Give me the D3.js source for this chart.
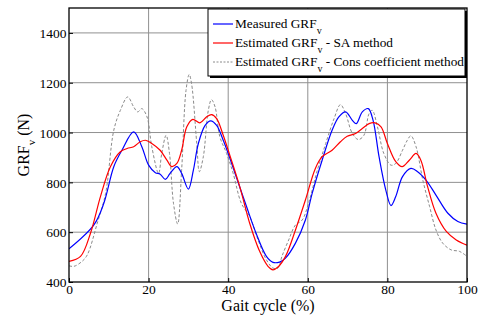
<!DOCTYPE html>
<html><head><meta charset="utf-8">
<script src="https://cdn.jsdelivr.net/npm/d3@7"></script>
</head><body style="margin:0;background:#fff">
<svg id="c" width="481" height="324" font-family="Liberation Serif"></svg>
<script>
const xTicks=[0,20,40,60,80,100];
const yTicks=[400,600,800,1000,1200,1400];
const measuredX=[0,6.25,8.75,11.25,13.3,16.25,18.3,20,21.7,22.9,24.2,25.4,27.1,28.3,30,31.25,32.5,34.2,35.6,37.1,38.75,40,42,44.6,47,49.6,51.25,52.9,54.4,56.9,59.4,61.1,63.6,66.1,67.8,69.5,71.2,72.2,73.7,75.2,76.4,77.9,79.6,80.9,82.1,83.8,85.9,87.6,89.7,92.2,95.2,97.7,100];
const measuredY=[533,629,716,863,929,1003,943,869,839,833,812,836,863,836,773,849,956,1029,1047,1029,969,916,823,703,596,503,479,480,496,556,649,756,889,1009,1063,1083,1049,1036,1083,1096,1049,903,769,707,743,823,856,843,809,749,676,643,632];
const saX=[0,2.9,5.4,7.9,10.4,12.9,14.6,16.25,17.9,19.2,20.8,22.9,24.6,25.8,27.1,28.3,29.6,31.1,32.9,34.6,35.8,37.1,38.75,40.4,42.9,45.4,47.9,50,51.25,52.5,54.4,56.9,59.4,61.9,63.6,66.1,68.2,69.9,72,73.7,75.4,76.9,78.4,80,82.1,83.7,85.5,87.2,88.4,90.1,92.2,94.8,97.3,100];
const saY=[483,503,596,743,863,923,936,943,963,969,956,929,889,863,876,929,1023,1053,1039,1063,1072,1056,989,909,783,636,523,463,449,460,503,609,729,856,903,929,963,985,996,1016,1036,1039,1023,956,883,863,889,916,889,783,676,603,569,548];
const consX=[0,1.25,3.3,4.6,7.1,9.2,11.25,12.9,14.75,16.25,17.25,18.3,19.6,20.8,22.5,23.3,24.4,25.25,26.25,27.3,28.3,29.4,30.2,30.8,32.1,32.75,33.75,35,35.8,36.7,37.9,39.6,41.25,43.3,45.4,47.5,49.6,51.25,52.5,53.5,55.2,56.9,58.6,60.3,62.4,64.5,66.6,68.2,69.5,71.2,72.7,74.1,75.4,76.2,77.5,79.1,80.9,82.1,83.8,85,85.9,87.2,88.9,90.6,92.2,93.9,96,98.1,100];
const consY=[465,463,483,509,636,756,1009,1089,1143,1103,1083,1096,1063,943,836,916,989,916,716,633,849,1169,1233,1196,956,843,903,1089,1132,1103,983,916,836,716,663,569,489,456,456,503,569,629,649,723,849,956,1056,1112,1076,996,972,989,1076,1089,1023,916,869,876,929,969,987,943,809,703,609,556,529,523,503];
const legendLabels=["Measured GRF","Estimated GRF","Estimated GRF"];
const legendSuffix=[""," - SA method"," - Cons coefficient method"];

const FF="Liberation Serif";
const svg=d3.select("#c");
const L=69,R=467,T=8,B=282;
const x=d3.scaleLinear().domain([0,100]).range([L,R]);
const y=d3.scaleLinear().domain([400,1500]).range([B,T]);

const g=svg.append("g");
g.selectAll(".gx").data(xTicks.slice(1,-1)).enter().append("line")
 .attr("x1",d=>x(d)).attr("x2",d=>x(d)).attr("y1",T).attr("y2",B)
 .attr("stroke","#909090").attr("stroke-width",1);
g.selectAll(".gy").data(yTicks.slice(1)).enter().append("line")
 .attr("x1",L).attr("x2",R).attr("y1",d=>y(d)).attr("y2",d=>y(d))
 .attr("stroke","#909090").attr("stroke-width",1);

const xa=svg.append("g").attr("transform",`translate(0,${B})`)
 .call(d3.axisBottom(x).tickValues(xTicks).tickFormat(d3.format("d")).tickSize(-4).tickPadding(2));
const ya=svg.append("g").attr("transform",`translate(${L},0)`)
 .call(d3.axisLeft(y).tickValues(yTicks).tickFormat(d3.format("d")).tickSize(-4).tickPadding(2.5));
[xa,ya].forEach(a=>{a.attr("font-family",FF).attr("font-size",13.5);a.select(".domain").remove();a.selectAll("line").attr("stroke","#000");
 a.selectAll("text").attr("font-family",FF).attr("font-size",13.5).attr("fill","#000");});
ya.selectAll("text").attr("dy","0.35em");
xa.selectAll("text").attr("dy","0.72em");

const mk=(xs,ys)=>xs.map((d,i)=>[d,ys[i]]);
const line=d3.line().x(d=>x(d[0])).y(d=>y(d[1])).curve(d3.curveCatmullRom.alpha(0.5));
svg.append("clipPath").attr("id","cp").append("rect").attr("x",L).attr("y",T).attr("width",R-L).attr("height",B-T);
const lg=svg.append("g").attr("clip-path","url(#cp)");
lg.append("path").attr("d",line(mk(consX,consY))).attr("fill","none").attr("stroke","#8a8a8a").attr("stroke-width",1).attr("stroke-dasharray","3,2");
lg.append("path").attr("d",line(mk(measuredX,measuredY))).attr("fill","none").attr("stroke","#0000ff").attr("stroke-width",1.2);
lg.append("path").attr("d",line(mk(saX,saY))).attr("fill","none").attr("stroke","#ff0000").attr("stroke-width",1.2);

svg.append("rect").attr("x",L).attr("y",T).attr("width",R-L).attr("height",B-T).attr("fill","none").attr("stroke","#000").attr("stroke-width",1.3);

const lx=208,ly=9,lw=257,lh=67;
svg.append("rect").attr("x",lx+2).attr("y",ly+2).attr("width",lw).attr("height",lh).attr("fill","#000");
svg.append("rect").attr("x",lx).attr("y",ly).attr("width",lw).attr("height",lh).attr("fill","#fff").attr("stroke","#000").attr("stroke-width",1);
const colors=["#0000ff","#ff0000","#8a8a8a"];
legendLabels.forEach((t,i)=>{
 const yy=ly+15+i*19;
 svg.append("line").attr("x1",lx+5).attr("x2",lx+25).attr("y1",yy).attr("y2",yy)
  .attr("stroke",colors[i]).attr("stroke-width",i==2?1:1.2).attr("stroke-dasharray",i==2?"2,1.5":null);
 const tx=svg.append("text").attr("x",lx+27).attr("y",yy+4).attr("font-family",FF).attr("font-size",13.3).attr("fill","#000");
 tx.append("tspan").text(t);
 tx.append("tspan").attr("font-size",10).attr("dy",6).text("v");
 tx.append("tspan").attr("dy",-6).text(legendSuffix[i]);
});

svg.append("text").attr("x",(L+R)/2).attr("y",311).attr("text-anchor","middle").attr("font-family",FF).attr("font-size",16).text("Gait cycle (%)");
const yl=svg.append("text").attr("transform",`translate(28.5,${(T+B)/2}) rotate(-90)`).attr("text-anchor","middle").attr("font-family",FF).attr("font-size",16);
yl.append("tspan").text("GRF");
yl.append("tspan").attr("font-size",11).attr("dy",6).text("v");
yl.append("tspan").attr("dy",-6).text(" (N)");
</script>
</body></html>
